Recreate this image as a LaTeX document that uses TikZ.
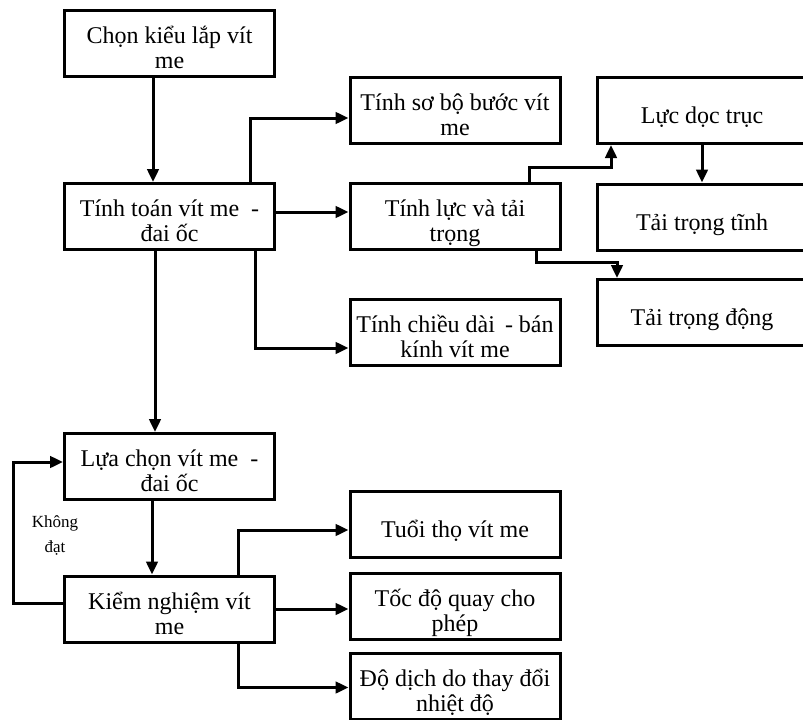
\documentclass[tikz,border=0pt]{standalone}
\usepackage{fontspec}
\setmainfont{Liberation Serif}
\usetikzlibrary{arrows.meta}

\begin{document}
\begin{tikzpicture}[x=1pt,y=-1pt,
    box/.style={draw,line width=3pt,minimum width=210pt,minimum height=66pt,inner sep=0pt,align=center,font=\fontsize{24}{25}\selectfont,
        execute at begin node={\rule{0pt}{34pt}},execute at end node={\rule[-8pt]{0pt}{8pt}}},
    twoline/.style={box,execute at begin node={\rule{0pt}{58pt}}},
    arr/.style={line width=3pt,-{Triangle[length=13pt,width=11.5pt]}},
    note/.style={align=center,font=\fontsize{17}{25}\selectfont}]
		\useasboundingbox (0,0) rectangle (803,720);

		% left column
		\node[twoline] (chon) at (169.5,43.5) {Chọn kiểu lắp vít\\me};
		\node[twoline] (tinhtoan) at (169.5,216.5) {Tính toán vít me \ -\\đai ốc};
		\node[twoline] (luachon) at (169.5,466.5) {Lựa chọn vít me \ -\\đai ốc};
		\node[twoline] (kiem) at (169.5,609) {Kiểm nghiệm vít\\me};

		% middle column
		\node[twoline] (sobo) at (455,110.5) {Tính sơ bộ bước vít\\me};
		\node[twoline] (luc) at (455,216.5) {Tính lực và tải\\trọng};
		\node[twoline] (chieudai) at (455,332.5) {Tính chiều dài \,- bán\\kính vít me};
		\node[box] (tuoi) at (455,524) {Tuổi thọ vít me};
		\node[twoline] (tocdo) at (455,606) {Tốc độ quay cho\\phép};
		\node[twoline] (dodich) at (455,686.5) {Độ dịch do thay đổi\\nhiệt độ};

		% right column
		\node[box] (doctruc) at (702,110.5) {Lực dọc trục};
		\node[box] (tinh) at (702,217) {Tải trọng tĩnh};
		\node[box] (dong) at (702,312.5) {Tải trọng động};

		\node[note] (khongdat) at (55,535) {Không\\đạt};

		% arrows
		\draw[arr] ([xshift=-16.5pt]chon.south) -- ([xshift=-16.5pt]tinhtoan.north);
		\draw[arr] ([xshift=80.5pt]tinhtoan.north) |- ([yshift=-7.5pt]sobo.west);
		\draw[arr] ([yshift=4.5pt]tinhtoan.east) -- ([yshift=4.5pt]luc.west);
		\draw[arr] ([xshift=85.5pt]tinhtoan.south) |- ([yshift=-15.5pt]chieudai.west);
		\draw[arr] ([xshift=-14.5pt]tinhtoan.south) -- ([xshift=-14.5pt]luachon.north);

		\draw[arr] ([xshift=74pt]luc.north) -- ++(0,-14.5) -| ([xshift=-91pt]doctruc.south);
		\draw[arr] ([xshift=81pt]luc.south) -- ++(0,11.5) -| ([xshift=-85pt]dong.north);
		\draw[arr] (doctruc.south) -- (tinh.north);

		\draw[arr] ([xshift=-17.5pt]luachon.south) -- ([xshift=-17.5pt]kiem.north);
		\draw[arr] ([yshift=6pt]kiem.west) -- ++(-50,0) |- ([yshift=4.5pt]luachon.west);
		\draw[arr] ([xshift=68.5pt]kiem.north) |- ([yshift=-6pt]tuoi.west);
		\draw[arr] (kiem.east) -- (kiem.east -| tocdo.west);
		\draw[arr] ([xshift=68.5pt]kiem.south) |- ([yshift=-1pt]dodich.west);
\end{tikzpicture}
\end{document}
